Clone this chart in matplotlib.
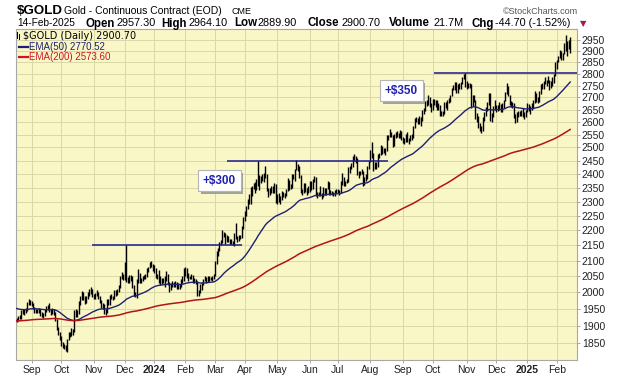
import matplotlib

matplotlib.use("Agg")
import matplotlib.patheffects as pe
import matplotlib.pyplot as plt
import numpy as np
import pandas as pd
from matplotlib.lines import Line2D
from matplotlib.ticker import FixedLocator, NullLocator

plt.rcParams["font.family"] = ["Liberation Sans", "DejaVu Sans"]

# exchange holidays inside the window (no bar printed)
holidays = ["2023-09-04", "2023-11-23", "2023-12-25", "2024-01-01", "2024-01-15",
            "2024-02-19", "2024-03-29", "2024-05-27", "2024-06-19", "2024-07-04",
            "2024-09-02", "2024-11-28", "2024-12-25", "2025-01-01", "2025-01-09",
            "2025-01-20"]

# daily lows / highs, one line per month
lows = [
    1911, 1913, 1918, 1920, 1935, 1932, 1938, 1944, 1962, 1960,  # Aug 23
    1958, 1948, 1938, 1937, 1936, 1936, 1928, 1924, 1923, 1928, 1941, 1946, 1940, 1932, 1934, 1930, 1914, 1886, 1872, 1858,
    1840, 1836, 1834, 1826, 1823, 1858, 1866, 1870, 1872, 1882, 1925, 1925, 1935, 1960, 1975, 1977, 1965, 1968, 1980, 1990, 1995, 1985,
    1978, 1981, 1988, 1980, 1968, 1953, 1950, 1933, 1932, 1938, 1960, 1962, 1978, 1975, 1980, 1990, 1992, 2000, 2012, 2040, 2038,
    2038, 2032, 2028, 2030, 2035, 2014, 1990, 1987, 1983, 2030, 2030, 2028, 2035, 2040, 2040, 2048, 2065, 2075, 2078, 2068,
    2060, 2045, 2042, 2030, 2024, 2027, 2028, 2015, 2035, 2023, 2001, 2006, 2017, 2016, 2015, 2010, 2010, 2011, 2016, 2030, 2036,  # Jan 24
    2050, 2045, 2035, 2040, 2040, 2029, 2030, 2026, 1990, 1988, 1998, 2008, 2022, 2034, 2028, 2032, 2035, 2037, 2035, 2040,
    2050, 2090, 2115, 2132, 2152, 2158, 2178, 2156, 2160, 2160, 2155, 2156, 2152, 2148, 2170, 2160, 2164, 2170, 2175, 2205,
    2232, 2250, 2275, 2292, 2290, 2320, 2345, 2330, 2342, 2355, 2340, 2368, 2375, 2372, 2385, 2336, 2315, 2324, 2330, 2330, 2330, 2295,
    2290, 2300, 2290, 2305, 2315, 2311, 2318, 2338, 2343, 2345, 2350, 2380, 2375, 2415, 2410, 2385, 2330, 2325, 2330, 2335, 2325, 2332,
    2335, 2340, 2345, 2372, 2320, 2313, 2319, 2318, 2310, 2315, 2325, 2325, 2345, 2325, 2324, 2322, 2318, 2320, 2330,
    2330, 2325, 2329, 2360, 2355, 2355, 2366, 2370, 2405, 2418, 2425, 2450, 2440, 2395, 2385, 2395, 2400, 2355, 2360, 2375, 2380, 2420,
    2445, 2460, 2410, 2420, 2420, 2425, 2460, 2470, 2475, 2478, 2470, 2488, 2530, 2540, 2540, 2500, 2505, 2537, 2540, 2535, 2535, 2530,
    2518, 2515, 2520, 2520, 2515, 2525, 2530, 2535, 2575, 2600, 2590, 2590, 2585, 2605, 2630, 2645, 2665, 2668, 2660, 2640,
    2650, 2670, 2660, 2650, 2650, 2625, 2625, 2625, 2630, 2655, 2650, 2676, 2682, 2705, 2730, 2730, 2720, 2720, 2736, 2735, 2755, 2777, 2745,
    2735, 2740, 2740, 2656, 2665, 2680, 2610, 2600, 2575, 2565, 2555, 2565, 2605, 2625, 2645, 2668, 2605, 2600, 2618, 2650,
    2640, 2645, 2650, 2640, 2642, 2655, 2685, 2715, 2705, 2670, 2660, 2655, 2615, 2595, 2600, 2620, 2625, 2625, 2620, 2610, 2620,
    2640, 2645, 2630, 2648, 2655, 2675, 2680, 2675, 2680, 2715, 2735, 2735, 2755, 2748, 2760, 2730, 2740, 2750, 2762, 2790,  # Jan 25
    2820, 2850, 2870, 2860, 2860, 2885, 2900, 2880, 2910, 2890,
]
highs = [
    1923, 1928, 1932, 1946, 1950, 1948, 1952, 1970, 1978, 1975,
    1974, 1968, 1955, 1950, 1950, 1952, 1948, 1940, 1937, 1950, 1958, 1960, 1968, 1950, 1952, 1948, 1939, 1920, 1896, 1882,
    1870, 1852, 1848, 1843, 1860, 1880, 1882, 1892, 1890, 1946, 1948, 1946, 1972, 1988, 2004, 2000, 1990, 1990, 2000, 2011, 2017, 2010,
    1996, 1998, 2007, 2000, 1990, 1976, 1968, 1965, 1950, 1978, 1978, 1993, 1996, 1990, 2006, 2006, 2009, 2022, 2050, 2064, 2058,
    2095, 2152, 2047, 2055, 2055, 2050, 2022, 2000, 2040, 2072, 2060, 2045, 2052, 2054, 2056, 2075, 2080, 2097, 2098, 2088,
    2086, 2075, 2058, 2070, 2052, 2043, 2045, 2050, 2067, 2057, 2032, 2028, 2034, 2033, 2036, 2032, 2028, 2025, 2040, 2050, 2075,
    2080, 2075, 2060, 2052, 2056, 2055, 2045, 2040, 2036, 2008, 2026, 2033, 2042, 2052, 2047, 2050, 2050, 2048, 2050, 2058,
    2100, 2130, 2142, 2162, 2168, 2203, 2196, 2190, 2184, 2180, 2172, 2170, 2166, 2190, 2226, 2182, 2186, 2186, 2215, 2245,
    2268, 2285, 2310, 2328, 2352, 2355, 2368, 2370, 2380, 2448, 2395, 2394, 2398, 2405, 2431, 2400, 2348, 2350, 2355, 2357, 2365, 2362,
    2328, 2330, 2320, 2336, 2335, 2330, 2345, 2385, 2376, 2362, 2398, 2400, 2420, 2452, 2436, 2428, 2396, 2344, 2365, 2368, 2348, 2355,
    2375, 2375, 2380, 2392, 2390, 2333, 2334, 2355, 2330, 2352, 2350, 2350, 2375, 2372, 2340, 2337, 2335, 2343, 2345,
    2345, 2340, 2375, 2405, 2390, 2375, 2382, 2425, 2430, 2440, 2468, 2476, 2468, 2460, 2410, 2412, 2420, 2412, 2390, 2400, 2430, 2450,
    2490, 2520, 2480, 2445, 2444, 2475, 2480, 2510, 2507, 2496, 2497, 2550, 2550, 2570, 2560, 2550, 2552, 2560, 2562, 2555, 2568, 2565,
    2540, 2535, 2552, 2560, 2535, 2548, 2551, 2585, 2615, 2618, 2615, 2625, 2620, 2650, 2658, 2685, 2690, 2708, 2700, 2676,
    2695, 2695, 2690, 2690, 2675, 2668, 2645, 2645, 2680, 2680, 2690, 2698, 2712, 2740, 2752, 2765, 2767, 2755, 2760, 2767, 2788, 2801, 2802,
    2770, 2760, 2762, 2755, 2710, 2712, 2690, 2635, 2625, 2595, 2585, 2620, 2640, 2660, 2680, 2720, 2718, 2635, 2665, 2690,
    2670, 2670, 2680, 2672, 2678, 2690, 2723, 2760, 2750, 2710, 2685, 2680, 2675, 2630, 2640, 2645, 2645, 2650, 2655, 2640, 2648,
    2675, 2672, 2665, 2675, 2690, 2725, 2718, 2700, 2725, 2755, 2760, 2770, 2785, 2775, 2790, 2775, 2770, 2785, 2800, 2852,
    2862, 2880, 2905, 2900, 2892, 2938, 2972, 2945, 2950, 2964,
]

ema50_start = 1952
ema200_start = 1914

# resistance levels drawn on the chart
res_levels = [2150, 2450, 2802]
res_start = ["2023-10-31", "2024-03-13", "2024-10-02"]
res_end = ["2024-03-27", "2024-08-19", None]
gain_text = ["+$300", "+$350"]
gain_date = ["2024-03-06", "2024-08-30"]
gain_price = [2374, 2727]

y_ticks = list(range(1850, 3000, 50))

dates = pd.bdate_range("2023-08-18", "2025-02-14")
dates = dates[~dates.isin(pd.to_datetime(holidays))]
assert len(dates) == len(lows) == len(highs), (len(dates), len(lows), len(highs))

lo = np.array(lows, dtype=float)
hi = np.array(highs, dtype=float)
mid = (lo + hi) / 2
ema50 = pd.Series(np.r_[ema50_start, mid]).ewm(span=50, adjust=False).mean().to_numpy()[1:]
ema200 = pd.Series(np.r_[ema200_start, mid]).ewm(span=200, adjust=False).mean().to_numpy()[1:]
x = np.arange(len(dates))

W, H = 620, 376


def fpos(px, py):
    return px / W, 1 - py / H


fig = plt.figure(figsize=(W / 100, H / 100), dpi=100)
fig.patch.set_facecolor("white")
ax = fig.add_axes([16 / W, 1 - 360 / H, (577 - 16) / W, (360 - 29) / H])
ax.set_facecolor("#f9f7c6")

ax.vlines(x, lo, hi, color="black", lw=1.0, zorder=3)
ax.plot(x, ema50, color="#1f1f73", lw=1.0, zorder=4)
ax.plot(x, ema200, color="#b3121b", lw=1.1, zorder=4)

ax.set_yscale("log")
ax.set_ylim(1802, 3000)
ax.set_xlim(-0.5, 378.6)

for lev, s, e in zip(res_levels, res_start, res_end):
    x0 = dates.get_loc(pd.Timestamp(s))
    x1 = dates.get_loc(pd.Timestamp(e)) if e else ax.get_xlim()[1]
    ax.plot([x0, x1], [lev, lev], color="#1a1a8c", lw=1.1, zorder=5, solid_capstyle="butt")

for txt, d, p in zip(gain_text, gain_date, gain_price):
    t = ax.text(dates.get_loc(pd.Timestamp(d)), p, txt, ha="center", va="center",
                fontsize=8.5, fontweight="bold", color="#2020b0", zorder=6,
                bbox=dict(boxstyle="square,pad=0.38", fc="white", ec="#b5b5b5", lw=0.8))
    t.get_bbox_patch().set_path_effects([
        pe.SimplePatchShadow(offset=(1.5, -1.5), shadow_rgbFace="#999999", alpha=0.9),
        pe.Normal()])

# axes, ticks, grid
ax.yaxis.tick_right()
ax.yaxis.set_major_locator(FixedLocator(y_ticks))
ax.yaxis.set_minor_locator(NullLocator())
ax.set_yticklabels([str(v) for v in y_ticks])

month_first = pd.Series(x, index=dates).groupby([dates.year, dates.month]).first()
tick_pos = month_first.to_numpy()[1:]
tick_dates = dates[tick_pos]
tick_lbl = [str(d.year) if d.month == 1 else d.strftime("%b") for d in tick_dates]
ax.xaxis.set_major_locator(FixedLocator(tick_pos))
ax.xaxis.set_minor_locator(NullLocator())
ax.set_xticklabels(tick_lbl)
for lbl, d in zip(ax.get_xticklabels(), tick_dates):
    if d.month == 1:
        lbl.set_fontweight("bold")
        lbl.set_fontsize(8)

ax.tick_params(axis="both", length=2, width=0.6, color="#999999", labelsize=7.5,
               labelcolor="#222222", pad=1.5)
ax.grid(True, color="#dad7a8", lw=0.7)
ax.set_axisbelow(True)
for sp in ax.spines.values():
    sp.set_color("#a8a8a8")
    sp.set_linewidth(0.8)

# legend block inside the plot
fig.text(*fpos(23, 39), "$GOLD (Daily) 2900.70", fontsize=7, family="DejaVu Sans",
         va="baseline", color="black")
for bx, y0, y1 in [(16.5, 32, 38), (19.5, 33.5, 39)]:
    fig.add_artist(Line2D([bx / W, bx / W], [1 - y0 / H, 1 - y1 / H], color="black", lw=0.7))
fig.add_artist(Line2D([19 / W, 28 / W], [1 - 46.5 / H] * 2, color="#1f1f73", lw=1.6))
fig.text(*fpos(29, 50), "EMA(50) 2770.52", fontsize=7, va="baseline", color="#1f1f73")
fig.add_artist(Line2D([19 / W, 28 / W], [1 - 57 / H] * 2, color="#c8162a", lw=1.6))
fig.text(*fpos(29, 60.5), "EMA(200) 2573.60", fontsize=7, va="baseline", color="#c8162a")

# header
fig.text(*fpos(17, 14), "$GOLD", fontsize=9.6, fontweight="bold", va="baseline")
fig.text(*fpos(64, 14), "Gold - Continuous Contract (EOD)", fontsize=7.5, va="baseline")
fig.text(*fpos(232, 14), "CME", fontsize=6.5, va="baseline")
fig.text(*fpos(578, 14), "\u00a9StockCharts.com", fontsize=6.5, va="baseline",
         ha="right", color="#555555")

row = [
    (17, "14-Feb-2025", False, 7.3),
    (85.5, "Open", True, 8.3), (116.5, "2957.30", False, 7.8),
    (161, "High", True, 8.3), (189, "2964.10", False, 7.8),
    (234.5, "Low", True, 8.3), (258, "2889.90", False, 7.8),
    (307, "Close", True, 8.3), (342, "2900.70", False, 7.8),
    (389, "Volume", True, 8.3), (433, "21.7M", False, 7.8),
    (471, "Chg", True, 8.3), (495, "-44.70 (-1.52%)", False, 7.8),
]
for px, s, bold, fs in row:
    fig.text(*fpos(px, 26.5), s, fontsize=fs, va="baseline",
             fontweight="bold" if bold else "normal")
fig.text(*fpos(580, 26.5), "\u25bc", fontsize=6, va="baseline", color="#a01c45",
         family=["DejaVu Sans"])

fig.savefig("out.png", dpi=100)
